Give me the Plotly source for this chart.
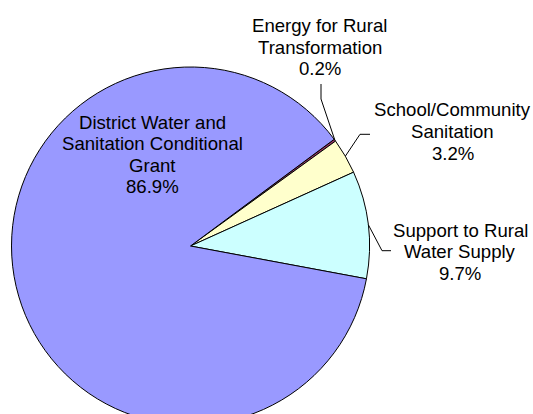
import numpy as np
import plotly.graph_objects as go

# ---- data ----
categories = ["Energy for Rural Transformation", "School/Community Sanitation",
              "Support to Rural Water Supply", "District Water and Sanitation Conditional Grant"]
label_lines = [["Energy for Rural", "Transformation"],
               ["School/Community", "Sanitation"],
               ["Support to Rural", "Water Supply"],
               ["District Water and", "Sanitation Conditional", "Grant"]]
values = [0.2, 3.2, 9.7, 86.9]
colors = ["#993366", "#FFFFCC", "#CCFFFF", "#9999FF"]

# ---- layout constants (pixels) ----
W, H = 533, 425
CX, CY, R = 190.5, 246.0, 179.0
ROT = 53.4  # degrees clockwise from 12 o'clock where first slice starts
FS = 18.6
LH = 21.6

def px(x):
    return x / W

def py(y):
    return (H - y) / H

fig = go.Figure(go.Pie(
    labels=categories, values=values, sort=False, direction="clockwise",
    rotation=ROT, marker=dict(colors=colors, line=dict(color="black", width=1)),
    textinfo="none", hoverinfo="label+percent", showlegend=False,
    domain=dict(x=[px(CX - R), px(CX + R)], y=[py(CY + R), py(CY - R)]),
))

total = sum(values)
pct = [v / total * 100 for v in values]
cum = np.cumsum([0] + values[:-1])
mid_deg = [ROT + (c + v / 2) / total * 360 for c, v in zip(cum, values)]

def edge_point(deg):
    a = np.radians(deg)
    return CX + R * np.sin(a), CY - R * np.cos(a)

# text block placement: (center x, first line center y)
text_pos = [(319.5, 25.5), (452.5, 110.0), (460.0, 230.0), (152.8, 122.0)]
# leader lines: (text-side point, elbow) for outside labels
leaders = [((321, 84), (321, 99)), ((370, 134.3), (360, 134.3)), ((391, 250.7), (382, 250.7)), None]

annotations = []
shapes = []
for i, (lines, p) in enumerate(zip(label_lines, pct)):
    tx, ty = text_pos[i]
    all_lines = lines + [f"{p:.1f}%"]
    for k, t in enumerate(all_lines):
        annotations.append(dict(
            x=px(tx), y=py(ty + k * LH), xref="paper", yref="paper",
            text=t, showarrow=False, xanchor="center", yanchor="middle",
            font=dict(family="Arial, Liberation Sans, sans-serif", size=FS, color="black"),
        ))
    if leaders[i] is not None:
        (x0, y0), (x1, y1) = leaders[i]
        ex, ey = edge_point(mid_deg[i])
        shapes.append(dict(type="path", xref="paper", yref="paper",
                           path=f"M {px(x0)} {py(y0)} L {px(x1)} {py(y1)} L {px(ex)} {py(ey)}",
                           line=dict(color="black", width=1)))

fig.update_layout(
    width=W, height=H, margin=dict(l=0, r=0, t=0, b=0),
    paper_bgcolor="white", plot_bgcolor="white",
    annotations=annotations, shapes=shapes,
)

fig.write_html("out.html", config={"displayModeBar": False},
               post_script="document.documentElement.style.overflow='hidden';"
                           "document.body.style.overflow='hidden';document.body.style.margin='0';")
